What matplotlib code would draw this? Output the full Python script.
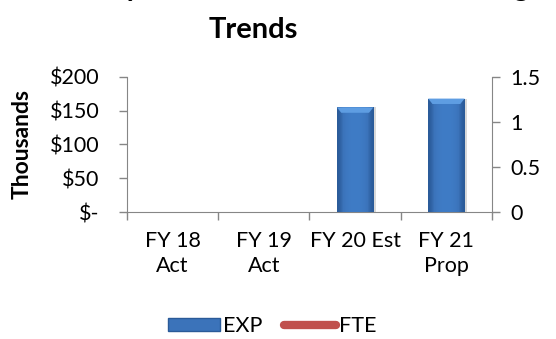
import numpy as np
import matplotlib
matplotlib.use("Agg")
import matplotlib.pyplot as plt
from matplotlib.patches import Polygon, Patch
from matplotlib.lines import Line2D

plt.rcParams['font.family'] = ['Lato', 'DejaVu Sans']

categories = ["FY 18\nAct", "FY 19\nAct", "FY 20 Est", "FY 21\nProp"]
exp_values = [0, 0, 155000, 168000]          # dollars
fte_values = [None, None, None, None]        # no staffing entered
left_ticks = [0, 50, 100, 150, 200]
left_labels = ["$-", "$50", "$100", "$150", "$200"]
right_ticks = [0, 0.5, 1, 1.5]
right_labels = ["0", "0.5", "1", "1.5"]

AXIS_GRAY = "#868686"
BLUE = "#3B73BA"
RED = "#C0504D"
FS = 15.5

fig = plt.figure(figsize=(5.56, 3.39), dpi=100)
ax = fig.add_axes([0.2284, 0.3746, 0.6565, 0.3983])
ax2 = ax.twinx()

x = np.arange(len(categories))
exp_k = np.array(exp_values, dtype=float) / 1000.0
bars = ax.bar(x, exp_k, width=0.4, color=BLUE, edgecolor="none", zorder=3)

# shaded fill and bevelled top for each column
grad = np.array([[0.0, 0.6, 0.9, 1.0, 1.0, 0.9, 0.6, 0.0]])
cmap = matplotlib.colors.LinearSegmentedColormap.from_list("col", ["#2A5A98", BLUE, "#3F7CC6"])
for b in bars:
    h = b.get_height()
    if h <= 0:
        continue
    x0, w = b.get_x(), b.get_width()
    im = ax.imshow(grad, extent=(x0, x0 + w, 0, h), aspect="auto", cmap=cmap,
                   zorder=4, interpolation="bicubic")
    im.set_clip_path(b)
    bev = 0.12 * w
    bev_y = 8.0
    top = Polygon([[x0, h], [x0 + w, h], [x0 + w - bev, h - bev_y], [x0 + bev, h - bev_y]],
                  closed=True, facecolor="#5E9DE2", edgecolor="none", zorder=5)
    ax.add_patch(top)
    ax.bar(x0 + w / 2 + 0.03, h, width=w, color="#D9D9D9", zorder=2, edgecolor="none")

fte = np.array([np.nan if v is None else v for v in fte_values], dtype=float)
ax2.plot(x, fte, color=RED, lw=4, solid_capstyle="round")

ax.set_xlim(-0.5, len(categories) - 0.5)
ax.set_ylim(0, 200)
ax2.set_ylim(0, 1.5)

ax.set_yticks(left_ticks)
ax.set_yticklabels(left_labels)
ax2.set_yticks(right_ticks)
ax2.set_yticklabels(right_labels)

ax.set_xticks(np.arange(len(categories) + 1) - 0.5)
ax.set_xticklabels([])
ax.set_xticks(x, minor=True)
ax.set_xticklabels(categories, minor=True, fontsize=FS, linespacing=1.3)
ax.tick_params(axis="x", which="minor", length=0, pad=14)
ax.tick_params(axis="x", which="major", length=6, width=1, color=AXIS_GRAY, direction="out")

ax.tick_params(axis="y", length=6, width=1, color=AXIS_GRAY, labelsize=FS, pad=14)
ax2.tick_params(axis="y", length=6, width=1, color=AXIS_GRAY, labelsize=FS, pad=7)

for a in (ax, ax2):
    a.spines["top"].set_visible(False)
ax.spines["right"].set_visible(False)
ax2.spines["left"].set_visible(False)
ax2.spines["bottom"].set_visible(False)
ax.spines["left"].set_color(AXIS_GRAY)
ax.spines["bottom"].set_color(AXIS_GRAY)
ax2.spines["right"].set_color(AXIS_GRAY)

ax.set_ylabel("Thousands", fontsize=16.5, fontweight="bold", labelpad=12)

# two-line title; the upper line runs off the top of the canvas
fig.text(0.455, 0.888, "Trends", ha="center", va="baseline",
         fontsize=21, fontweight="bold")
fig.text(0.53, 1.012, "Salary Reimbursements and Staffing", ha="center", va="baseline",
         fontsize=21, fontweight="bold")

handles = [Patch(facecolor=BLUE, edgecolor="#2A5A98"),
           Line2D([0], [0], color=RED, lw=6, solid_capstyle="round")]
fig.legend(handles, ["EXP", "FTE"], loc="center", bbox_to_anchor=(0.49, 0.038),
           ncol=2, frameon=False, fontsize=FS, handlelength=2.4, handleheight=0.6,
           handletextpad=0.15, columnspacing=1.0)

fig.savefig("out.png", dpi=100)
